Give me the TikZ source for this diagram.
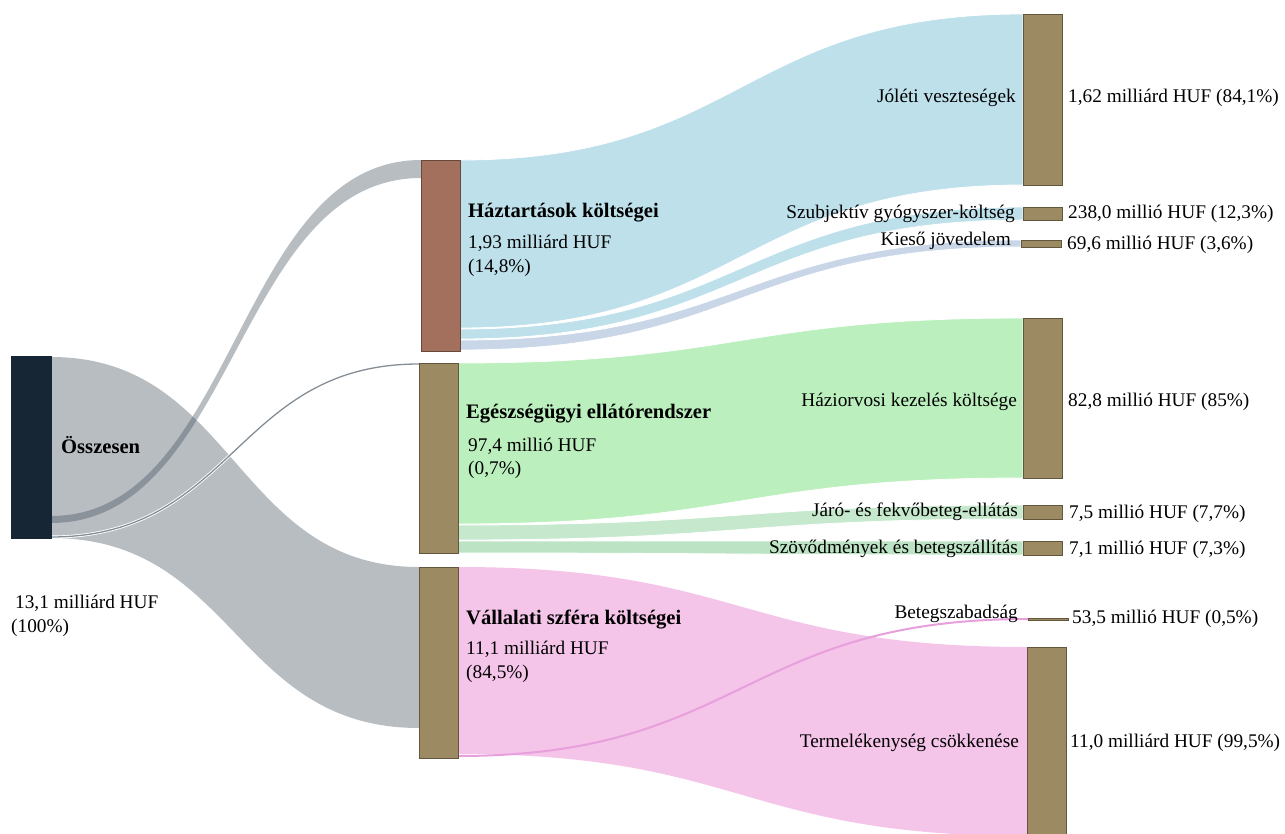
\documentclass[tikz,border=0pt]{standalone}
\usepackage{fontspec}
\setmainfont{Liberation Serif}
\usetikzlibrary{calc}

\definecolor{totfill}{RGB}{23,38,52}
\definecolor{hhfill}{RGB}{163,112,94}
\definecolor{hhline}{RGB}{105,72,58}
\definecolor{barfill}{RGB}{156,138,99}
\definecolor{barline}{RGB}{98,86,60}
\definecolor{grayflow}{RGB}{52,67,81}
\definecolor{blueflow}{RGB}{189,224,235}
\definecolor{blueflowb}{RGB}{200,214,232}
\definecolor{greenflow}{RGB}{187,240,190}
\definecolor{greenflowb}{RGB}{198,232,204}
\definecolor{greenflowc}{RGB}{188,228,196}
\definecolor{pinkflow}{RGB}{244,196,233}
\definecolor{pinkline}{RGB}{232,160,220}

\tikzset{
  bar/.style={rectangle, draw=barline, fill=barfill, line width=0.8pt, inner sep=0pt, outer sep=0pt},
  gband/.style={fill=grayflow, fill opacity=0.35},
  bband/.style={fill=blueflow, draw=white, line width=0.8pt},
  gnband/.style={fill=greenflow, draw=white, line width=0.8pt},
  pband/.style={fill=pinkflow},
  lbl/.style={inner sep=0pt, font=\fontsize{19.3}{22}\selectfont},
  hdr/.style={inner sep=0pt, font=\fontsize{20.6}{22}\selectfont\bfseries},
}

% bar node given by its corners (x1,y1) -- (x2,y2), y measured downwards
\newcommand\barnode[6]{%
  \node[bar,#6,minimum width={(#4-#2)*1pt},minimum height={(#5-#3)*1pt}]
    (#1) at ({(#2+#4)/2},{(#3+#5)/2}) {};}

% flow band: style, source node, top/bottom at source, target node, top/bottom at target
\newcommand\flowband[7]{%
  \path[#1] let \p1=(#2.east), \p2=(#5.west), \n1={\x1}, \n2={\x2}, \n3={(\x1+\x2)/2} in
    (\n1,#3) .. controls (\n3,#3) and (\n3,#6) .. (\n2,#6) -- (\n2,#7)
    .. controls (\n3,#7) and (\n3,#4) .. (\n1,#4) -- cycle;}

% thin flow drawn as a single curve
\newcommand\flowline[5]{%
  \draw[#1] let \p1=(#2.east), \p2=(#4.west), \n1={\x1}, \n2={\x2}, \n3={(\x1+\x2)/2} in
    (\n1,#3) .. controls (\n3,#3) and (\n3,#5) .. (\n2,#5);}

\begin{document}
\begin{tikzpicture}[x=1pt,y=-1pt]
\useasboundingbox (0,0) rectangle (1285,834);

% nodes (placed first so the flows can refer to them, drawn again on top)
\begin{scope}[bar/.append style={draw=none,fill=none}]
\barnode{tot}{11}{356}{51}{538}{}
\barnode{hh}{421}{160}{460}{351}{}
\barnode{hc}{419}{363}{458}{553}{}
\barnode{co}{419}{567}{458}{758}{}
\barnode{jol}{1023}{14}{1062}{185}{}
\barnode{szub}{1023}{207}{1062}{220}{}
\barnode{kies}{1021}{240}{1061}{247}{}
\barnode{hazi}{1023}{318}{1062}{478}{}
\barnode{jaro}{1023}{505}{1062}{519}{}
\barnode{szov}{1023}{541}{1062}{555}{}
\barnode{bsz}{1028}{618}{1068}{620}{}
\barnode{term}{1027}{647}{1066}{836}{}
\end{scope}

% first level flows
\flowband{gband}{tot}{357}{538}{co}{567}{728}
\flowband{gband}{tot}{516}{523}{hh}{160}{178}
\flowline{draw=white,line width=3pt}{tot}{537}{hc}{364}
\flowline{draw=grayflow!60,line width=1.3pt}{tot}{537}{hc}{364}

% households
\flowband{bband}{hh}{160}{328}{jol}{14}{185}
\flowband{bband}{hh}{329}{339}{szub}{207}{220}
\flowband{bband,fill=blueflowb}{hh}{340}{350}{kies}{240}{247}

% health care system
\flowband{gnband}{hc}{363}{524}{hazi}{318}{478}
\flowband{gnband,fill=greenflowb}{hc}{525}{540}{jaro}{505}{519}
\flowband{gnband,fill=greenflowc}{hc}{541}{553}{szov}{541}{555}

% companies
\flowband{pband}{co}{567}{754}{term}{647}{836}
\flowline{draw=pinkline,line width=2pt}{co}{756}{bsz}{619}

% visible bars
\barnode{totv}{11}{356}{51}{538}{fill=totfill,draw=totfill}
\barnode{hhv}{421}{160}{460}{351}{fill=hhfill,draw=hhline}
\barnode{hcv}{419}{363}{458}{553}{}
\barnode{cov}{419}{567}{458}{758}{}
\barnode{jolv}{1023}{14}{1062}{185}{}
\barnode{szubv}{1023}{207}{1062}{220}{}
\barnode{kiesv}{1021}{240}{1061}{247}{}
\barnode{haziv}{1023}{318}{1062}{478}{}
\barnode{jarov}{1023}{505}{1062}{519}{}
\barnode{szovv}{1023}{541}{1062}{555}{}
\barnode{bszv}{1028}{618}{1068}{620}{}
\barnode{termv}{1027}{647}{1066}{836}{}

% labels of the left and middle columns
\node[hdr,anchor=base west] (tTot) at (61,453) {Összesen};
\node[lbl,anchor=base west] (tTotV) at (15,608) {13,1 milliárd HUF};
\node[lbl,anchor=base west] (tTotP) at (11,632) {(100\%)};

\node[hdr,anchor=base west] (tHh) at (468,218) {Háztartások költségei};
\node[lbl,anchor=base west] (tHhV) at (468,249) {1,93 milliárd HUF};
\node[lbl,anchor=base west] (tHhP) at (468,273) {(14,8\%)};

\node[hdr,anchor=base west] (tHc) at (466,418) {Egészségügyi ellátórendszer};
\node[lbl,anchor=base west] (tHcV) at (468,451) {97,4 millió HUF};
\node[lbl,anchor=base west] (tHcP) at (468,474) {(0,7\%)};

\node[hdr,anchor=base west] (tCo) at (466,624) {Vállalati szféra költségei};
\node[lbl,anchor=base west] (tCoV) at (466,654) {11,1 milliárd HUF};
\node[lbl,anchor=base west] (tCoP) at (466,678) {(84,5\%)};

% labels of the right column
\node[lbl,anchor=base east] (tJol) at (1016,103) {Jóléti veszteségek};
\node[lbl,anchor=base east] (tSzub) at (1015,219) {Szubjektív gyógyszer-költség};
\node[lbl,anchor=base east] (tKies) at (1011,246) {Kieső jövedelem};
\node[lbl,anchor=base east] (tHazi) at (1017,406) {Háziorvosi kezelés költsége};
\node[lbl,anchor=base east] (tJaro) at (1018,516) {Járó- és fekvőbeteg-ellátás};
\node[lbl,anchor=base east] (tSzov) at (1018,553) {Szövődmények és betegszállítás};
\node[lbl,anchor=base east] (tBsz) at (1018,618) {Betegszabadság};
\node[lbl,anchor=base east] (tTerm) at (1019,747) {Termelékenység csökkenése};

\node[lbl,anchor=base west] (vJol) at (1068,103) {1,62 milliárd HUF (84,1\%)};
\node[lbl,anchor=base west] (vSzub) at (1068,219) {238,0 millió HUF (12,3\%)};
\node[lbl,anchor=base west] (vKies) at (1067,250) {69,6 millió HUF (3,6\%)};
\node[lbl,anchor=base west] (vHazi) at (1068,406) {82,8 millió HUF (85\%)};
\node[lbl,anchor=base west] (vJaro) at (1069,518) {7,5 millió HUF (7,7\%)};
\node[lbl,anchor=base west] (vSzov) at (1069,554) {7,1 millió HUF (7,3\%)};
\node[lbl,anchor=base west] (vBsz) at (1072,623) {53,5 millió HUF (0,5\%)};
\node[lbl,anchor=base west] (vTerm) at (1070,747) {11,0 milliárd HUF (99,5\%)};
\end{tikzpicture}
\end{document}
